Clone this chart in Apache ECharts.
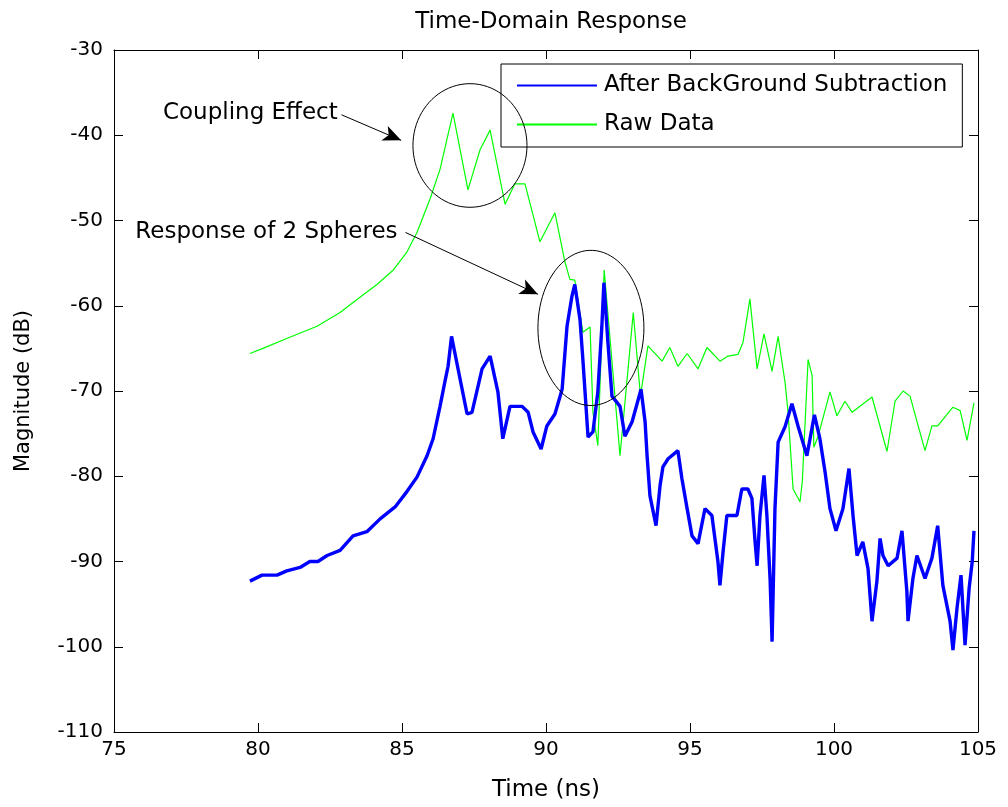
<!DOCTYPE html>
<html>
<head>
<meta charset="utf-8">
<script src="https://cdn.jsdelivr.net/npm/echarts@6/dist/echarts.min.js"></script>
<style>
  html, body { margin: 0; padding: 0; background: #fff; }
  #chart { width: 1008px; height: 807px; }
</style>
</head>
<body>
<div id="chart"></div>
<script>
// values
const rawTime = [79.72, 80.17, 81.1, 82.05, 82.85, 83.54, 84.13, 84.7, 85.17, 85.52, 85.97, 86.32, 86.77, 87.29,
  87.71, 88.06, 88.58, 88.92, 89.27, 89.79, 90.31, 90.66, 90.83, 91.0, 91.28, 91.53, 91.63, 91.8, 92.02, 92.57,
  93.03, 93.28, 93.54, 94.03, 94.3, 94.58, 94.9, 95.28, 95.59, 96.04, 96.32, 96.67, 96.84, 97.08, 97.33, 97.57,
  97.85, 98.06, 98.3, 98.4, 98.58, 98.82, 98.9, 99.1, 99.24, 99.3, 99.45, 99.86, 100.1, 100.38, 100.63, 101.32,
  101.84, 102.12, 102.4, 102.64, 103.16, 103.4, 103.6, 104.13, 104.38, 104.62, 104.86];
const rawMag = [-65.6, -65.0, -63.7, -62.4, -60.8, -59.0, -57.5, -55.8, -53.7, -51.4, -47.5, -44.0, -37.4, -46.4,
  -41.7, -39.4, -48.1, -45.7, -45.7, -52.5, -49.1, -54.9, -56.9, -57.0, -63.1, -62.5, -72.5, -76.4, -55.8, -77.6,
  -60.8, -70.6, -64.7, -66.5, -64.9, -67.1, -65.6, -67.4, -64.9, -66.5, -65.9, -65.7, -64.3, -59.2, -67.4, -63.3,
  -67.7, -63.6, -69.0, -72.3, -81.5, -83.0, -80.6, -66.3, -68.2, -76.6, -75.3, -70.1, -72.9, -71.2, -72.5, -70.7,
  -77.1, -71.2, -70.0, -70.6, -77.0, -74.1, -74.1, -71.9, -72.3, -75.8, -71.4];

const subTime = [79.72, 80.14, 80.66, 81.0, 81.46, 81.8, 82.08, 82.4, 82.85, 83.3, 83.78, 84.24, 84.76, 85.17,
  85.52, 85.87, 86.08, 86.32, 86.49, 86.6, 86.72, 87.26, 87.43, 87.78, 88.06, 88.33, 88.5, 88.75, 89.17, 89.38,
  89.55, 89.83, 90.03, 90.31, 90.56, 90.73, 90.9, 91.0, 91.18, 91.28, 91.46, 91.63, 91.8, 91.94, 92.01, 92.15,
  92.29, 92.57, 92.74, 92.99, 93.3, 93.44, 93.51, 93.61, 93.82, 93.96, 94.06, 94.24, 94.58, 94.72, 94.9, 95.07,
  95.28, 95.52, 95.76, 95.97, 96.04, 96.15, 96.28, 96.63, 96.8, 97.01, 97.15, 97.26, 97.33, 97.43, 97.57, 97.67,
  97.78, 97.85, 97.95, 98.06, 98.3, 98.54, 98.75, 99.06, 99.32, 99.51, 99.69, 99.86, 100.07, 100.31, 100.52,
  100.66, 100.8, 101.0, 101.18, 101.32, 101.49, 101.6, 101.7, 101.88, 102.19, 102.36, 102.53, 102.57, 102.74,
  102.88, 103.16, 103.4, 103.6, 103.78, 104.03, 104.13, 104.27, 104.41, 104.55, 104.69, 104.8, 104.86];
const subMag = [-92.3, -91.6, -91.6, -91.1, -90.7, -90.0, -90.0, -89.3, -88.7, -87.0, -86.5, -85.0, -83.6, -81.8,
  -80.1, -77.6, -75.6, -71.8, -68.9, -67.1, -63.6, -72.7, -72.5, -67.4, -65.9, -70.1, -75.6, -71.8, -71.8, -72.5,
  -74.8, -76.8, -74.1, -72.7, -69.8, -62.4, -58.9, -57.5, -61.6, -66.3, -75.4, -74.8, -70.1, -62.4, -57.3, -64.3,
  -70.6, -71.8, -75.3, -73.6, -69.8, -73.6, -77.6, -82.3, -85.8, -81.1, -78.9, -77.95, -77.0, -80.3, -83.8, -87.0,
  -87.9, -83.8, -84.6, -90.0, -92.8, -88.8, -84.6, -84.6, -81.5, -81.5, -82.6, -87.7, -90.5, -84.6, -79.9, -84.6,
  -92.0, -99.4, -83.8, -76.0, -74.2, -71.5, -74.1, -77.6, -72.8, -75.6, -79.5, -83.8, -86.4, -83.8, -79.1,
  -84.6, -89.3, -87.7, -90.8, -97.0, -92.3, -87.3, -89.3, -90.5, -89.6, -86.4, -93.5, -97.0, -92.0,
  -89.3, -92.0, -89.6, -85.8, -92.8, -97.0, -100.4, -95.5, -91.6, -99.8, -93.2, -90.0, -86.4];

// annotations, in data units: [centre time, centre dB, half width ns, half height dB]
const circles = [[87.36, -41.2, 1.98, 7.25], [91.56, -62.6, 1.84, 9.1]];
const noteText = [[76.7, -37.4, 'Coupling Effect'], [75.74, -51.3, 'Response of 2 Spheres']];
const arrows = [[[82.9, -37.6], [84.97, -40.6]], [[85.12, -51.4], [89.72, -58.65]]];

const xTicks = { min: 75, max: 105, step: 5 };
const yTicks = { min: -110, max: -30, step: 10 };

const zip = (xs, ys) => xs.map((x, i) => [x, ys[i]]);
const font = 'DejaVu Sans';
const textSize = 23;

const chart = echarts.init(document.getElementById('chart'));

const axisCommon = {
  axisLine: { show: true, lineStyle: { color: '#000', width: 1 } },
  axisTick: { show: true, inside: true, length: 9, lineStyle: { color: '#000' } },
  splitLine: { show: false },
};

chart.setOption({
  backgroundColor: '#fff',
  animation: false,
  title: {
    text: 'Time-Domain Response',
    left: 546,
    textAlign: 'center',
    top: 6,
    textStyle: { fontFamily: font, fontSize: textSize, fontWeight: 'normal', color: '#000' },
  },
  legend: {
    data: ['After BackGround Subtraction', 'Raw Data'],
    orient: 'vertical',
    left: 501,
    top: 64,
    padding: [10, 15, 11, 15],
    itemWidth: 80,
    itemHeight: 14,
    itemGap: 16,
    borderColor: '#000',
    borderWidth: 1,
    itemStyle: { opacity: 0 },
    textStyle: { fontFamily: font, fontSize: textSize, color: '#000', lineHeight: 23, padding: [0, 0, 0, 2] },
  },
  grid: { left: 114, top: 50, right: 30, bottom: 73 },
  xAxis: [
    {
      ...axisCommon,
      type: 'value',
      min: xTicks.min, max: xTicks.max, interval: xTicks.step,
      name: 'Time (ns)',
      nameLocation: 'middle',
      nameGap: 47,
      nameTextStyle: { fontFamily: font, fontSize: textSize, color: '#000' },
      axisLabel: { fontFamily: font, fontSize: 20, color: '#000', margin: 8 },
    },
    {
      ...axisCommon,
      type: 'value', position: 'top',
      min: xTicks.min, max: xTicks.max, interval: xTicks.step,
      axisLabel: { show: false },
    },
  ],
  yAxis: [
    {
      ...axisCommon,
      type: 'value',
      min: yTicks.min, max: yTicks.max, interval: yTicks.step,
      name: 'Magnitude (dB)',
      nameLocation: 'middle',
      nameGap: 80,
      nameTextStyle: { fontFamily: font, fontSize: 21, color: '#000' },
      axisLabel: { fontFamily: font, fontSize: 20, color: '#000', margin: 11 },
    },
    {
      ...axisCommon,
      type: 'value', position: 'right',
      min: yTicks.min, max: yTicks.max, interval: yTicks.step,
      axisLabel: { show: false },
    },
  ],
  series: [
    {
      name: 'Raw Data',
      type: 'line',
      symbol: 'none',
      z: 2,
      lineStyle: { color: '#00ff00', width: 1.2 },
      itemStyle: { color: '#00ff00' },
      data: zip(rawTime, rawMag),
    },
    {
      name: 'After BackGround Subtraction',
      type: 'line',
      symbol: 'none',
      z: 3,
      lineStyle: { color: '#0000ff', width: 3.4 },
      itemStyle: { color: '#0000ff' },
      data: zip(subTime, subMag),
    },
    {
      name: 'circles',
      type: 'custom',
      z: 4,
      silent: true,
      renderItem(params, api) {
        const cx = api.value(0), cy = api.value(1), rx = api.value(2), ry = api.value(3);
        const pts = [];
        for (let k = 0; k <= 90; k++) {
          const t = (k / 90) * Math.PI * 2;
          pts.push(api.coord([cx + rx * Math.cos(t), cy + ry * Math.sin(t)]));
        }
        return { type: 'polyline', shape: { points: pts }, style: { fill: null, stroke: '#000', lineWidth: 1 } };
      },
      data: circles,
    },
    {
      name: 'notes',
      type: 'scatter',
      symbolSize: 0,
      z: 5,
      silent: true,
      itemStyle: { opacity: 1 },
      label: {
        show: true,
        position: 'right',
        distance: 0,
        formatter: (p) => p.data[2],
        fontFamily: font, fontSize: textSize, color: '#000',
      },
      data: noteText,
      markLine: {
        silent: true,
        symbol: ['none', 'arrow'],
        symbolSize: [12, 18],
        label: { show: false },
        lineStyle: { color: '#000', width: 1, type: 'solid', opacity: 1 },
        data: arrows.map(([a, b]) => [{ coord: a }, { coord: b }]),
      },
    },
  ],
});
</script>
</body>
</html>
